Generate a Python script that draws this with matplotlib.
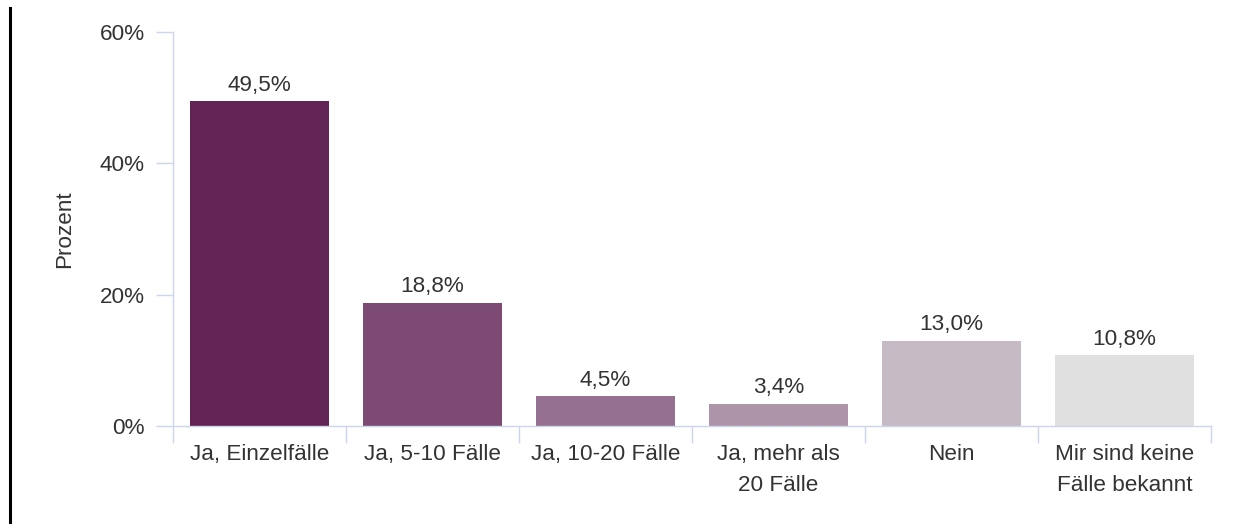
import matplotlib.pyplot as plt
from matplotlib.lines import Line2D
from matplotlib.ticker import FixedLocator

plt.rcParams['font.family'] = ['Liberation Sans', 'DejaVu Sans']

# Daten
categories = ['Ja, Einzelfälle', 'Ja, 5-10 Fälle', 'Ja, 10-20 Fälle',
              'Ja, mehr als\n20 Fälle', 'Nein', 'Mir sind keine\nFälle bekannt']
values = [49.5, 18.8, 4.5, 3.4, 13.0, 10.8]
value_labels = ['49,5%', '18,8%', '4,5%', '3,4%', '13,0%', '10,8%']
y_ticks = [0, 20, 40, 60]
y_tick_labels = ['0%', '20%', '40%', '60%']

colors = ['#622355', '#7d4a73', '#967090', '#ad94a9', '#c6bac5', '#e0e0e0']
axis_color = '#ccd6eb'
text_color = '#333333'
fs = 16.2

W, H = 1247, 524
fig = plt.figure(figsize=(W / 100, H / 100), dpi=100)
ax = fig.add_axes([173 / W, 98 / H, (1211 - 173) / W, (426 - 32) / H])

x = range(len(categories))
ax.bar(x, values, width=0.8, color=colors, linewidth=0)

for i, (v, lab) in enumerate(zip(values, value_labels)):
    ax.annotate(lab, (i, v), xytext=(0, 7.5), textcoords='offset points',
                ha='center', va='baseline', fontsize=fs, color=text_color)

ax.set_xlim(-0.5, len(categories) - 0.5)
ax.set_ylim(0, 60)

# x-Achse: Kategorien mittig, Trennstriche an den Grenzen
ax.set_xticks(list(x))
ax.set_xticklabels(categories, fontsize=fs, color=text_color, linespacing=1.6)
ax.tick_params(axis='x', which='major', length=0, pad=13)
ax.xaxis.set_minor_locator(FixedLocator([i - 0.5 for i in range(len(categories) + 1)]))
ax.tick_params(axis='x', which='minor', length=12.2, width=1, color=axis_color)

ax.set_yticks(y_ticks)
ax.set_yticklabels(y_tick_labels, fontsize=fs, color=text_color)
ax.tick_params(axis='y', length=12.2, width=1, color=axis_color, pad=8)

for side in ['top', 'right']:
    ax.spines[side].set_visible(False)
for side in ['left', 'bottom']:
    ax.spines[side].set_color(axis_color)
    ax.spines[side].set_linewidth(1)

fig.text(65 / W, 1 - 229 / H, 'Prozent', rotation=90, ha='center', va='center',
         fontsize=fs, color=text_color)

# schwarzer Rand links
fig.add_artist(Line2D([10 / W, 10 / W], [0, 1 - 8 / H], color='black', linewidth=2.2))

fig.savefig('out.png', dpi=100)
